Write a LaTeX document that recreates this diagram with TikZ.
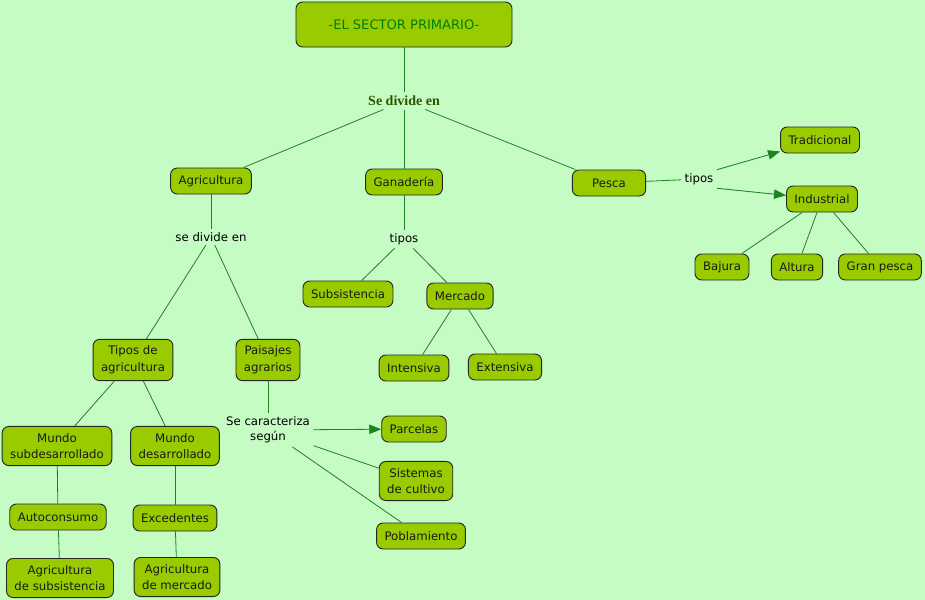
\documentclass[tikz,border=0pt]{standalone}
\usepackage{fontspec}
\setmainfont{DejaVu Sans}
\newfontfamily\serifbold{Liberation Serif}
\usetikzlibrary{arrows.meta,positioning}
\definecolor{mapaBackGreen}{RGB}{196, 252, 196}
\definecolor{mapaBoxGreen}{RGB}{153, 204, 0}
\definecolor{mapaLineGreen}{RGB}{30, 130, 30}
\definecolor{mapaTitleGreen}{RGB}{0, 125, 0}
\definecolor{mapaDarkGreen}{RGB}{45, 85, 0}

\begin{document}
\begin{tikzpicture}[
  x=0.75pt, y=-0.75pt,
  concept/.style={
    draw=black!85,
    line width=0.7pt,
    fill=mapaBoxGreen,
    rounded corners=5pt,
    minimum height=19.5pt,
    inner xsep=6pt,
    inner ysep=5pt,
    align=center,
    font=\fontsize{8.8}{12.5}\selectfont,
    text=black!90
  },
  linkword/.style={
    inner sep=2.5pt,
    align=center,
    font=\fontsize{8.8}{11.5}\selectfont
  },
  link/.style={draw=mapaLineGreen, line width=0.6pt},
  arrowlink/.style={link, -{Triangle[length=9pt,width=7pt]}, fill=mapaLineGreen}
]
  \fill[mapaBackGreen] (0,0) rectangle (925,600);
  \useasboundingbox (0,0) rectangle (925,600);

  \node[concept,minimum width=162pt,minimum height=33.75pt,font=\fontsize{9.8}{11}\selectfont,text=mapaTitleGreen] (sector) at (404,24.5) {-EL SECTOR PRIMARIO-};
  \node[linkword,font=\serifbold\bfseries\fontsize{10.5}{12}\selectfont,text=mapaDarkGreen] (divide) at (404,101) {Se divide en};

  \node[concept] (agri) at (211,181) {Agricultura};
  \node[concept] (gana) at (404,182) {Ganadería};
  \node[concept,minimum width=55pt] (pesca) at (609,183) {Pesca};

  \node[linkword] (pescatipos) at (699,179) {tipos};
  \node[concept] (tradi) at (820,140) {Tradicional};
  \node[concept] (indus) at (822,199) {Industrial};
  \node[concept] (bajura) at (722,267) {Bajura};
  \node[concept] (altura) at (797,267) {Altura};
  \node[concept] (granpesca) at (880,267) {Gran pesca};

  \node[linkword] (agridivide) at (211,237) {se divide en};
  \node[concept] (tipos) at (133,360) {Tipos de\\agricultura};
  \node[concept] (paisajes) at (268,360) {Paisajes\\agrarios};
  \node[concept] (mundosub) at (57,446) {Mundo\\subdesarrollado};
  \node[concept] (mundodes) at (175,446) {Mundo\\desarrollado};
  \node[concept] (autocons) at (58,517) {Autoconsumo};
  \node[concept] (exced) at (175,518) {Excedentes};
  \node[concept] (agrisub) at (60,578) {Agricultura\\de subsistencia};
  \node[concept] (agrimer) at (177,577) {Agricultura\\de mercado};

  \node[linkword] (caract) at (268,430) {Se caracteriza\\según};
  \node[concept] (parcelas) at (414,429) {Parcelas};
  \node[concept] (sistemas) at (416,481) {Sistemas\\de cultivo};
  \node[concept] (poblam) at (421,536) {Poblamiento};

  \node[linkword] (ganatipos) at (404,239) {tipos};
  \node[concept] (subsis) at (348,294) {Subsistencia};
  \node[concept] (mercado) at (460,296) {Mercado};
  \node[concept] (intens) at (414,368) {Intensiva};
  \node[concept] (extens) at (505,367) {Extensiva};

  \draw[link] (sector) -- (divide);
  \draw[link] (divide) -- (agri);
  \draw[link] (divide) -- (gana);
  \draw[link] (divide) -- (pesca);

  \draw[link] (pesca) -- (pescatipos);
  \draw[arrowlink] (pescatipos.north east) -- (tradi);
  \draw[arrowlink] (pescatipos.south east) -- (indus);
  \draw[link] (indus) -- (bajura);
  \draw[link] (indus) -- (altura);
  \draw[link] (indus) -- (granpesca);

  \draw[link] (agri) -- (agridivide);
  \draw[link] (agridivide) -- (tipos);
  \draw[link] (agridivide) -- (paisajes);
  \draw[link] (tipos) -- (mundosub);
  \draw[link] (tipos) -- (mundodes);
  \draw[link] (mundosub) -- (autocons);
  \draw[link] (autocons) -- (agrisub);
  \draw[link] (mundodes) -- (exced);
  \draw[link] (exced) -- (agrimer);

  \draw[link] (paisajes) -- (caract);
  \draw[arrowlink] (caract) -- (parcelas);
  \draw[link] (caract) -- (sistemas);
  \draw[link] (caract) -- (poblam);

  \draw[link] (gana) -- (ganatipos);
  \draw[link] (ganatipos) -- (subsis);
  \draw[link] (ganatipos) -- (mercado);
  \draw[link] (mercado) -- (intens);
  \draw[link] (mercado) -- (extens);
\end{tikzpicture}
\end{document}
